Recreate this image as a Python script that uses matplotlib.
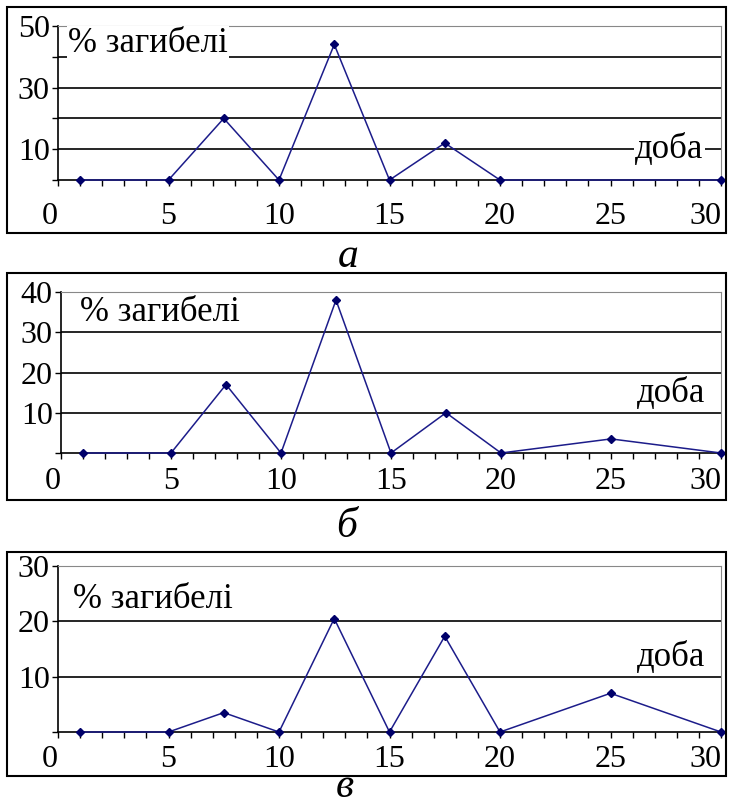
import matplotlib.pyplot as plt
from matplotlib.patches import Rectangle
from matplotlib.ticker import MultipleLocator
from matplotlib.transforms import offset_copy

plt.rcParams["font.family"] = ["Liberation Serif", "DejaVu Serif"]

# days (доба) and % mortality for the three panels
days_a = [1, 5, 7.5, 10, 12.5, 15, 17.5, 20, 30]
pct_a = [0, 0, 20, 0, 44, 0, 12, 0, 0]

days_b = [1, 5, 7.5, 10, 12.5, 15, 17.5, 20, 25, 30]
pct_b = [0, 0, 17, 0, 38, 0, 10, 0, 3.5, 0]

days_c = [1, 5, 7.5, 10, 12.5, 15, 17.5, 20, 25, 30]
pct_c = [0, 0, 3.5, 0, 20.5, 0, 17.3, 0, 7, 0]

xticks = [0, 5, 10, 15, 20, 25, 30]
ymax = [50, 40, 30]
ylabels = [[10, 30, 50], [10, 20, 30, 40], [10, 20, 30]]
letters = ["а", "б", "в"]

W, H = 729, 807
fig = plt.figure(figsize=(W / 100, H / 100), dpi=100)

def fx(px):
    return px / W

def fy(py):
    return 1 - py / H

# plot areas in pixels: left, top, right, bottom
areas = [(58, 26, 721, 180), (61, 292, 721, 453), (58, 566, 721, 732)]
boxes = [(7, 7, 726, 233), (7, 273, 726, 500), (7, 552, 726, 776)]
# panel letters: x centre, y, vertical alignment
letter_pos = [(348, 267, "baseline"), (347, 537, "baseline"), (345, 806, "bottom")]
title_pos = [(0.45, 44.2), (0.86, 35), (0.68, 23.9)]
day_pos = [(29.2, 10), (29.3, 14.9), (29.3, 13.4)]
xpads = [12, 6, 5.5]

series = [(days_a, pct_a), (days_b, pct_b), (days_c, pct_c)]
blue = "#1c1c8a"
fs = 23
fs_text = 25
tick_len = 4

for i in range(3):
    l, t, r, b = areas[i]
    ax = fig.add_axes([fx(l), fy(b), fx(r) - fx(l), fy(t) - fy(b)])
    x, y = series[i]
    ax.plot(x, y, color=blue, lw=1.1, marker="D", ms=4.5,
            markerfacecolor="#00006a", markeredgecolor="#00006a", zorder=5, clip_on=False)

    ax.set_xlim(0, 30)
    ax.set_ylim(0, ymax[i])
    for g in range(10, ymax[i], 10):
        ax.axhline(g, color="black", lw=1.2, zorder=1)

    # end labels 0 and 30 are pulled inside the box, as in the original
    ax.set_xticks(xticks)
    ax.set_xticklabels(["" if v in (xticks[0], xticks[-1]) else str(v) for v in xticks])
    ax.xaxis.set_minor_locator(MultipleLocator(1))
    ax.set_yticks(range(0, ymax[i] + 1, 10))
    ax.set_yticklabels([str(v) if v in ylabels[i] else "" for v in range(0, ymax[i] + 1, 10)])
    ax.tick_params(axis="x", which="both", direction="out", length=tick_len, width=1,
                   pad=xpads[i], labelsize=fs)
    ax.tick_params(axis="y", direction="out", length=tick_len, width=1, pad=2, labelsize=fs)

    lab_tr = offset_copy(ax.get_xaxis_transform(), fig=fig, y=-(tick_len + xpads[i]),
                         units="points")
    ax.text(xticks[0], 0, str(xticks[0]), transform=lab_tr, fontsize=fs,
            ha="right", va="top")
    ax.text(xticks[-1], 0, str(xticks[-1]), transform=lab_tr, fontsize=fs,
            ha="right", va="top")

    ax.spines["left"].set_linewidth(1.2)
    ax.spines["bottom"].set_linewidth(1.2)
    ax.spines["top"].set_color("#888888")
    ax.spines["right"].set_color("#888888")

    tx, ty = title_pos[i]
    ax.text(tx, ty, "% загибелі", fontsize=fs_text, ha="left", va="center", zorder=3,
            bbox=dict(facecolor="white", edgecolor="none", pad=1))
    dx, dy = day_pos[i]
    ax.text(dx, dy, "доба", fontsize=fs_text, ha="right", va="center", zorder=3,
            bbox=dict(facecolor="white", edgecolor="none", pad=1))

    bl, bt, br, bb = boxes[i]
    fig.patches.append(Rectangle((fx(bl), fy(bb)), fx(br) - fx(bl), fy(bt) - fy(bb),
                                 transform=fig.transFigure, fill=False,
                                 edgecolor="black", lw=1.5))

    lx, ly, lva = letter_pos[i]
    fig.text(fx(lx), fy(ly), letters[i], fontsize=30, style="italic",
             ha="center", va=lva)

fig.savefig("out.png", dpi=100)
